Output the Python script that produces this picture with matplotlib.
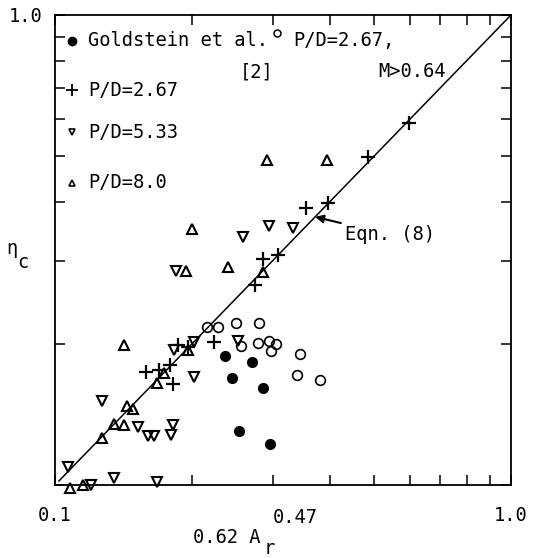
import matplotlib
matplotlib.use("Agg")
import matplotlib.pyplot as plt
from matplotlib.ticker import LogLocator, NullFormatter, FixedLocator, FixedFormatter

plt.rcParams['font.family'] = ['DejaVu Sans Mono']
plt.rcParams['font.size'] = 13.5

# --- data (x = 0.62 Ar^0.47, y = eta_c) ---
# Goldstein et al. [2]
gold_x = [0.236, 0.270, 0.244, 0.286, 0.253, 0.296]
gold_y = [0.188, 0.183, 0.169, 0.161, 0.130, 0.122]

# P/D=2.67, M>0.64 (open circles)
circ_x = [0.215, 0.228, 0.250, 0.280, 0.256, 0.279, 0.295, 0.305, 0.298, 0.345, 0.339, 0.381]
circ_y = [0.217, 0.217, 0.221, 0.221, 0.1975, 0.2005, 0.2025, 0.1995, 0.193, 0.190, 0.1714, 0.1673]

# P/D=2.67 (plus)
plus_x = [0.158, 0.169, 0.179, 0.181, 0.186, 0.196, 0.223, 0.275, 0.286, 0.308, 0.355, 0.397, 0.486, 0.597]
plus_y = [0.174, 0.176, 0.180, 0.164, 0.1985, 0.197, 0.2015, 0.266, 0.3025, 0.3085, 0.388, 0.398, 0.4985, 0.589]

# P/D=5.33 (triangle down)
tdn_x = [0.333, 0.295, 0.258, 0.184, 0.252, 0.202, 0.182, 0.202, 0.127, 0.152,
         0.160, 0.165, 0.181, 0.180, 0.107, 0.120, 0.135, 0.167]
tdn_y = [0.352, 0.356, 0.337, 0.285, 0.2025, 0.2015, 0.194, 0.170, 0.151, 0.133,
         0.127, 0.127, 0.134, 0.128, 0.109, 0.100, 0.1035, 0.1015]

# P/D=8.0 (triangle up)
tup_x = [0.292, 0.395, 0.200, 0.240, 0.194, 0.286, 0.142, 0.196, 0.173, 0.167,
         0.144, 0.148, 0.135, 0.142, 0.127, 0.108, 0.115]
tup_y = [0.491, 0.491, 0.350, 0.291, 0.285, 0.284, 0.1985, 0.194, 0.173, 0.165,
         0.147, 0.145, 0.135, 0.134, 0.126, 0.0985, 0.100]

# Eqn. (8)
eqn_x = [0.102, 1.0]
eqn_y = [0.102, 1.0]

fig = plt.figure(figsize=(5.34, 5.58), dpi=100)
ax = fig.add_axes([55 / 534, 1 - 485 / 558, 456 / 534, 470 / 558])
ax.set_xscale('log')
ax.set_yscale('log')
ax.set_xlim(0.1, 1.0)
ax.set_ylim(0.1, 1.0)

ax.plot(eqn_x, eqn_y, color='black', lw=1.1)

mk = dict(linestyle='none', color='black', clip_on=False)
ax.plot(gold_x, gold_y, marker='o', ms=7, mfc='black', mec='black', **mk)
ax.plot(circ_x, circ_y, marker='o', ms=7, mfc='none', mec='black', mew=1.2, **mk)
ax.plot(plus_x, plus_y, marker='+', ms=10, mew=1.6, **mk)
ax.plot(tdn_x, tdn_y, marker='v', ms=7, mfc='none', mec='black', mew=1.5, **mk)
ax.plot(tup_x, tup_y, marker='^', ms=7, mfc='none', mec='black', mew=1.5, **mk)

# ticks
for axis in (ax.xaxis, ax.yaxis):
    axis.set_major_locator(FixedLocator([0.1, 1.0]))
    axis.set_minor_locator(LogLocator(base=10, subs=range(2, 10)))
    axis.set_minor_formatter(NullFormatter())
ax.xaxis.set_major_formatter(FixedFormatter(['0.1', '1.0']))
ax.yaxis.set_major_formatter(FixedFormatter(['', '1.0']))
ax.tick_params(which='both', direction='in', top=True, right=True,
               length=7, width=1.1)
ax.tick_params(axis='x', which='major', pad=15)
ax.tick_params(axis='y', which='major', pad=9)
for s in ax.spines.values():
    s.set_linewidth(1.3)

# axis labels
ta = ax.transAxes
ax.text(0.303, -0.111, '0.62 A', transform=ta, ha='left', va='center')
ax.text(0.458, -0.136, 'r', transform=ta, ha='left', va='center')
ax.text(0.478, -0.070, '0.47', transform=ta, ha='left', va='center')
ax.text(-0.107, 0.504, 'η', transform=ta, ha='left', va='center')
ax.text(-0.083, 0.474, 'c', transform=ta, ha='left', va='center')

# legend keys and labels
ax.plot([0.037], [0.945], marker='o', ms=6, color='black', transform=ta, clip_on=False)
ax.text(0.072, 0.945, 'Goldstein et al.', transform=ta, va='center')
ax.text(0.406, 0.879, '[2]', transform=ta, va='center')
ax.plot([0.037], [0.840], marker='+', ms=9, mew=1.3, color='black', transform=ta)
ax.text(0.072, 0.840, 'P/D=2.67', transform=ta, va='center')
ax.plot([0.037], [0.751], marker='v', ms=5, mfc='none', mec='black', mew=1.2, transform=ta)
ax.text(0.072, 0.751, 'P/D=5.33', transform=ta, va='center')
ax.plot([0.037], [0.643], marker='^', ms=5, mfc='none', mec='black', mew=1.2, transform=ta)
ax.text(0.072, 0.643, 'P/D=8.0', transform=ta, va='center')
ax.plot([0.487], [0.962], marker='o', ms=5, mfc='none', mec='black', mew=1.1, transform=ta)
ax.text(0.522, 0.945, 'P/D=2.67,', transform=ta, va='center')
ax.text(0.708, 0.879, 'M>0.64', transform=ta, va='center')

ax.annotate('Eqn. (8)', xy=(0.372, 0.372), xycoords='data',
            xytext=(0.636, 0.532), textcoords='axes fraction',
            ha='left', va='center',
            arrowprops=dict(arrowstyle='-|>', color='black', lw=1.5,
                            shrinkA=1, shrinkB=0, mutation_scale=12))

fig.savefig('out.png', dpi=100)
